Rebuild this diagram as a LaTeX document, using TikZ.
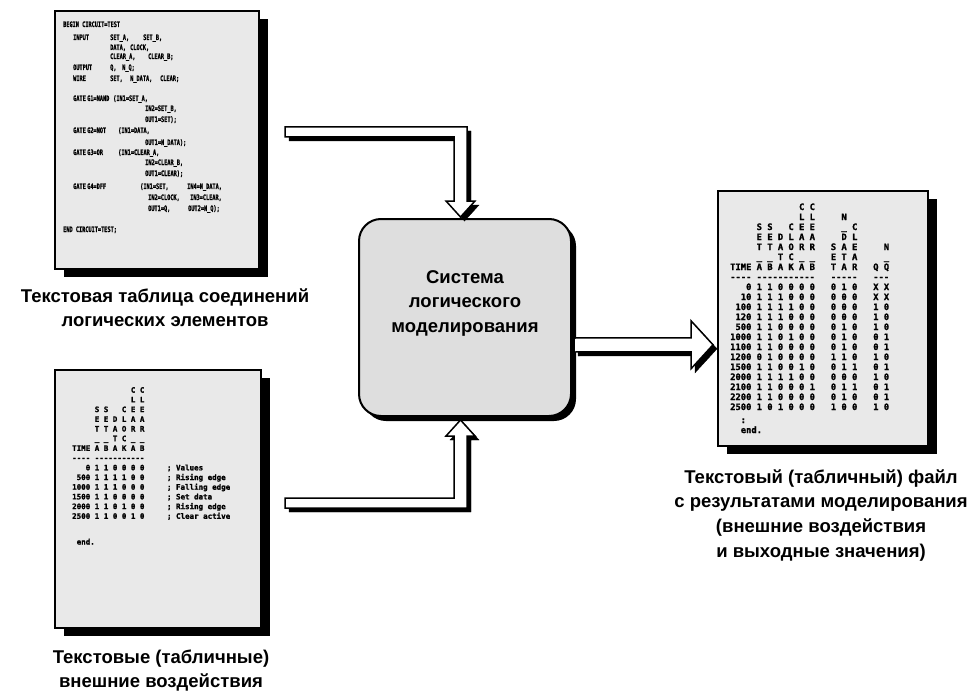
\documentclass[tikz,border=0pt]{standalone}
\usepackage{fontspec}
\setmainfont{Liberation Sans}
\newfontfamily\codefont{DejaVu Sans Mono}[Ligatures=TeXOff, BoldFeatures={FakeBold=1.5}]
\usetikzlibrary{calc,shadows}
\definecolor{paper}{HTML}{E9E9E9}
\definecolor{simfill}{HTML}{DEDEDE}
% stacked lines: centred and left aligned, first baseline on the node's base
\newcommand\stackc[1]{\begin{tabular}[t]{@{}c@{}}#1\end{tabular}}
\newcommand\stackl[1]{\begin{tabular}[t]{@{}l@{}}#1\end{tabular}}
\begin{document}
\begin{tikzpicture}[x=1pt,y=-1pt,
  sheet/.style={draw=black, line width=1.6pt, fill=paper, inner sep=0pt, anchor=north west,
    general shadow={fill=black, shadow xshift=9pt, shadow yshift=-8pt}},
  simbox/.style={draw=black, line width=2pt, fill=simfill, rounded corners=22pt,
    inner sep=0pt, anchor=north west,
    general shadow={fill=black, shadow xshift=5pt, shadow yshift=-5pt}},
  blockarrow/.style={draw=black, line width=1.5pt, fill=white, line join=miter,
    preaction={draw=black, fill=black, transform canvas={xshift=4pt, yshift=-4pt}}},
  captext/.style={font=\fontsize{18.5}{24.7}\selectfont\bfseries, inner sep=0pt, anchor=base},
  netcode/.style={font=\codefont\bfseries\fontsize{7.5}{7.5}\selectfont, inner sep=0pt, anchor=base west},
  listing/.style={inner sep=0pt, anchor=base west},
]
\useasboundingbox (0,0) rectangle (976,695);

% sheets and the simulator block
\node[sheet, minimum width=204pt, minimum height=258pt] (netlist) at (54,10) {};
\node[sheet, minimum width=206pt, minimum height=258pt] (stimuli) at (54,369) {};
\node[sheet, minimum width=210pt, minimum height=255pt] (results) at (717,190) {};
\node[simbox, minimum width=212pt, minimum height=197pt] (sim) at (358,218) {};

% hollow block arrows
\coordinate (inTop) at ($(sim.north)+(-4.5,-1)$);
\coordinate (netOut) at (285,132);
\path[blockarrow] ($(netOut)+(0,-5)$) -| ($(inTop)+(6.5,-16)$) -- ++(8,0) -- (inTop)
  -- ++(-14.5,-16) -- ++(8,0) |- ($(netOut)+(0,5)$) -- cycle;

\coordinate (inBot) at ($(sim.south)+(-4.5,3)$);
\coordinate (stimOut) at (285,503);
\path[blockarrow] ($(stimOut)+(0,-5)$) -| ($(inBot)+(-6.5,16)$) -- ++(-8,0) -- (inBot)
  -- ++(14.5,16) -- ++(-8,0) |- ($(stimOut)+(0,5)$) -- cycle;

\coordinate (simOut) at ($(sim.east)+(2,27.5)$);
\coordinate (resIn) at ($(results.west)+(-4,26.5)$);
\path[blockarrow] ($(simOut)+(0,-7)$) -- ($(resIn)+(-22,-7)$) -- ++(0,-17) -- (resIn)
  -- ++(-22,24) -- ++(0,-17) -- ($(simOut)+(0,7)$) -- cycle;

% netlist listing
\foreach \x/\y/\t [count=\i] in {
  63/27/{BEGIN CIRCUIT=TEST},
  73/40/INPUT, 110/40/{SET\_A,}, 143/40/{SET\_B,},
  110/50/{DATA,}, 130/50/{CLOCK,},
  110/59/{CLEAR\_A,}, 148/59/{CLEAR\_B;},
  73/70/OUTPUT, 110/70/{Q,}, 122/70/{N\_Q;},
  73/81/WIRE, 110/81/{SET,}, 130/81/{N\_DATA,}, 160/81/{CLEAR;},
  73/101/GATE, 87/101/{G1=NAND}, 113/101/{(IN1=SET\_A,},
  145/111/{IN2=SET\_B,},
  145/122/{OUT1=SET);},
  73/133/GATE, 87/133/{G2=NOT}, 118/133/{(IN1=DATA,},
  145/145/{OUT1=N\_DATA);},
  73/155/GATE, 87/155/{G3=OR}, 118/155/{(IN1=CLEAR\_A,},
  145/165/{IN2=CLEAR\_B,},
  145/176/{OUT1=CLEAR);},
  73/189/GATE, 87/189/{G4=DFF}, 140/189/{(IN1=SET,}, 187/189/{IN4=N\_DATA,},
  148/200/{IN2=CLOCK,}, 190/200/{IN3=CLEAR,},
  148/211/{OUT1=Q,}, 188/211/{OUT2=N\_Q);},
  63/232/{END CIRCUIT=TEST;}}
  \node[netcode] (nl\i) at (\x,\y) {\scalebox{0.7}[1]{\t}};

% stimulus table
\node[listing, font=\codefont\bfseries\fontsize{7.5}{9.7}\selectfont] (stimtab) at (72,392.7) {\stackl{%
~~~~~~~~~~~~~C~C\\
~~~~~~~~~~~~~L~L\\
~~~~~S~S~~~C~E~E\\
~~~~~E~E~D~L~A~A\\
~~~~~T~T~A~O~R~R\\
~~~~~\_~\_~T~C~\_~\_\\
TIME~A~B~A~K~A~B\\
----~-----------\\
~~~0~1~1~0~0~0~0~~~~~;~Values\\
~500~1~1~1~1~0~0~~~~~;~Rising edge\\
1000~1~1~1~0~0~0~~~~~;~Falling edge\\
1500~1~1~0~0~0~0~~~~~;~Set data\\
2000~1~1~0~1~0~0~~~~~;~Rising edge\\
2500~1~1~0~0~1~0~~~~~;~Clear active\\[16pt]
~end.}};

% simulation results table
\node[listing, font=\codefont\bfseries\fontsize{8.8}{10}\selectfont] (restab) at (730,210) {\stackl{%
~~~~~~~~~~~~~C~C\\
~~~~~~~~~~~~~L~L~~~~~N\\
~~~~~S~S~~~C~E~E~~~~~\_~C\\
~~~~~E~E~D~L~A~A~~~~~D~L\\
~~~~~T~T~A~O~R~R~~~S~A~E~~~~~N\\
~~~~~\_~\_~T~C~\_~\_~~~E~T~A~~~~~\_\\
TIME~A~B~A~K~A~B~~~T~A~R~~~Q~Q\\
----~-----------~~~-----~~~---\\
~~~0~1~1~0~0~0~0~~~0~1~0~~~X~X\\
~~10~1~1~1~0~0~0~~~0~0~0~~~X~X\\
~100~1~1~1~1~0~0~~~0~0~0~~~1~0\\
~120~1~1~1~0~0~0~~~0~0~0~~~1~0\\
~500~1~1~0~0~0~0~~~0~1~0~~~1~0\\
1000~1~1~0~1~0~0~~~0~1~0~~~0~1\\
1100~1~1~0~0~0~0~~~0~1~0~~~0~1\\
1200~0~1~0~0~0~0~~~1~1~0~~~1~0\\
1500~1~1~0~0~1~0~~~0~1~1~~~0~1\\
2000~1~1~1~1~0~0~~~0~0~0~~~1~0\\
2100~1~1~0~0~0~1~~~0~1~1~~~0~1\\
2200~1~1~0~0~0~0~~~0~1~0~~~0~1\\
2500~1~0~1~0~0~0~~~1~0~0~~~1~0\\[3pt]
~~:\\
~~end.}};

% labels
\node[captext] (simtext) at (465,283) {\stackc{Система\\логического\\моделирования}};
\node[captext] (netcap) at (165,302) {\stackc{Текстовая таблица соединений\\логических элементов}};
\node[captext] (stimcap) at (161,663) {\stackc{Текстовые (табличные)\\внешние воздействия}};
\node[captext] (rescap) at (821,483) {\stackc{Текстовый (табличный) файл\\с результатами моделирования\\(внешние воздействия\\и выходные значения)}};
\end{tikzpicture}
\end{document}
